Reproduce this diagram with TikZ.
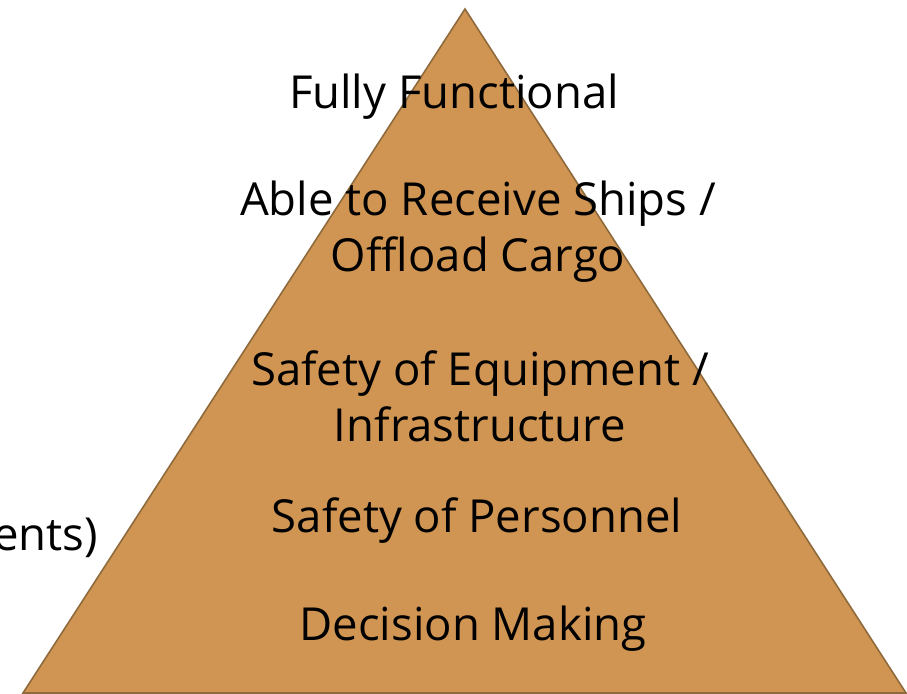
\documentclass[tikz,border=0pt]{standalone}
\usepackage{fontspec}
\setmainfont{Open Sans}[Ligatures={NoCommon}]
\definecolor{pyrfill}{HTML}{D09552}
\definecolor{pyrline}{HTML}{8E6A3C}
\begin{document}
\begin{tikzpicture}[x=1pt,y=-1pt,
  lbl/.style={font=\fontsize{45.5}{56}\selectfont, text=black, align=center, inner sep=0pt}]
\useasboundingbox (0,0) rectangle (907,693);
\begin{scope}
\clip (0,0) rectangle (907,693);
\draw[fill=pyrfill, draw=pyrline, line width=1.6pt] (465,9) -- (23,693) -- (906,693) -- cycle;
\end{scope}
\node[lbl] (l1) at (454,97) {Fully Functional};
\node[lbl] (l2) at (478,232) {Able to Receive Ships /\\Offload Cargo};
\node[lbl] (l3) at (480,396) {Safety of Equipment /\\Infrastructure};
\node[lbl] (l4) at (477,521) {Safety of Personnel};
\node[lbl] (l5) at (473,629) {Decision Making};
\node[lbl, anchor=east] (l6) at (98,538) {ents)};
\end{tikzpicture}
\end{document}
